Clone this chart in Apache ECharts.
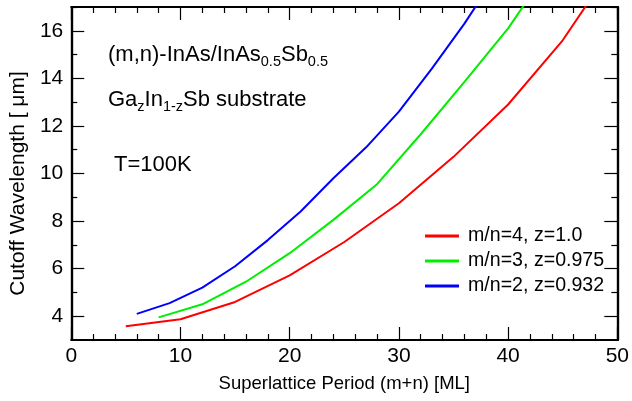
<!DOCTYPE html>
<html>
<head>
<meta charset="utf-8">
<script src="https://cdn.jsdelivr.net/npm/echarts@6/dist/echarts.min.js"></script>
<style>html,body{margin:0;padding:0;background:#fff;}#c{width:632px;height:401px;}</style>
</head>
<body>
<div id="c"></div>
<script>
// Data
const seriesNames = ['m/n=4, z=1.0', 'm/n=3, z=0.975', 'm/n=2, z=0.932'];
const redX = [5, 10, 15, 20, 25, 30, 35, 40, 45, 50];
const redY = [3.58, 3.87, 4.6, 5.72, 7.12, 8.75, 10.7, 12.9, 15.6, 19.0];
const greenX = [8, 12, 16, 20, 24, 28, 32, 36, 40, 44];
const greenY = [3.95, 4.5, 5.45, 6.65, 8.05, 9.55, 11.65, 13.85, 16.1, 18.8];
const blueX = [6, 9, 12, 15, 18, 21, 24, 27, 30, 33, 36, 39];
const blueY = [4.1, 4.55, 5.2, 6.1, 7.2, 8.4, 9.8, 11.1, 12.6, 14.4, 16.3, 18.4];
const yMajorTicks = [4, 6, 8, 10, 12, 14, 16];
const yMinorTicks = [5, 7, 9, 11, 13, 15, 17];

const FONT = 'Liberation Sans, Arial, sans-serif';
const zip = (xs, ys) => xs.map((x, i) => [x, ys[i]]);

const chart = echarts.init(document.getElementById('c'));
const baseX = {
  type: 'value', min: 0, max: 50, interval: 10,
  axisLine: { show: true, onZero: false, lineStyle: { color: '#000', width: 2.2 } },
  axisTick: { show: true, inside: true, length: 13, lineStyle: { color: '#000', width: 1.2 } },
  minorTick: { show: true, splitNumber: 5, length: 6, lineStyle: { color: '#000', width: 1.2 } },
  splitLine: { show: false }, minorSplitLine: { show: false }
};
const baseY = {
  type: 'value', min: 3, max: 17,
  axisLine: { show: true, onZero: false, lineStyle: { color: '#000', width: 2.2 } },
  splitLine: { show: false }
};
chart.setOption({
  animation: false,
  backgroundColor: '#fff',
  grid: { left: 70, right: 12, top: 7, bottom: 61, containLabel: false },
  xAxis: [
    Object.assign({}, baseX, {
      position: 'bottom',
      name: 'Superlattice Period (m+n) [ML]', nameLocation: 'middle', nameGap: 34,
      nameTextStyle: { fontFamily: FONT, fontSize: 18.5, color: '#000' },
      axisLabel: { show: true, margin: 6, fontFamily: FONT, fontSize: 21, color: '#000' }
    }),
    Object.assign({}, baseX, { position: 'top', axisLabel: { show: false } })
  ],
  yAxis: [
    Object.assign({}, baseY, {
      position: 'left',
      name: 'Cutoff Wavelength [ \u03bcm]', nameLocation: 'middle', nameGap: 41,
      nameTextStyle: { fontFamily: FONT, fontSize: 21, color: '#000', padding: [0, 20, 0, 0] },
      axisTick: { show: true, inside: true, length: 13, customValues: yMajorTicks, lineStyle: { color: '#000', width: 1.2 } },
      axisLabel: { show: true, margin: 8, customValues: yMajorTicks, fontFamily: FONT, fontSize: 21, color: '#000' }
    }),
    Object.assign({}, baseY, {
      position: 'right',
      axisTick: { show: true, inside: true, length: 13, customValues: yMajorTicks, lineStyle: { color: '#000', width: 1.2 } },
      axisLabel: { show: false }
    }),
    Object.assign({}, baseY, {
      position: 'left',
      axisTick: { show: true, inside: true, length: 6, customValues: yMinorTicks, lineStyle: { color: '#000', width: 1.2 } },
      axisLabel: { show: false }
    }),
    Object.assign({}, baseY, {
      position: 'right',
      axisTick: { show: true, inside: true, length: 6, customValues: yMinorTicks, lineStyle: { color: '#000', width: 1.2 } },
      axisLabel: { show: false }
    })
  ],
  legend: {
    left: 420, top: 221, orient: 'vertical',
    itemWidth: 34, itemHeight: 3, itemGap: 5, icon: 'rect',
    textStyle: { fontFamily: FONT, fontSize: 19.6, color: '#000', padding: [0, 0, 0, 4] },
    data: seriesNames
  },
  series: [
    { name: seriesNames[0], type: 'line', data: zip(redX, redY), showSymbol: false, symbol: 'none',
      lineStyle: { color: '#ff0000', width: 2 }, itemStyle: { color: '#ff0000' }, clip: true },
    { name: seriesNames[1], type: 'line', data: zip(greenX, greenY), showSymbol: false, symbol: 'none',
      lineStyle: { color: '#00ee00', width: 2 }, itemStyle: { color: '#00ee00' }, clip: true },
    { name: seriesNames[2], type: 'line', data: zip(blueX, blueY), showSymbol: false, symbol: 'none',
      lineStyle: { color: '#0000ff', width: 2 }, itemStyle: { color: '#0000ff' }, clip: true }
  ],
  graphic: [
    { type: 'text', left: 108, top: 44, style: {
      text: '{a|(m,n)-InAs/InAs}{b|0.5}{a|Sb}{b|0.5}',
      rich: { a: { fontFamily: FONT, fontSize: 22, fill: '#000' }, b: { fontFamily: FONT, fontSize: 14.5, fill: '#000', padding: [14, 0, 0, 0] } }
    } },
    { type: 'text', left: 108, top: 89, style: {
      text: '{a|Ga}{b|z}{a|In}{b|1-z}{a|Sb substrate}',
      rich: { a: { fontFamily: FONT, fontSize: 22, fill: '#000' }, b: { fontFamily: FONT, fontSize: 14.5, fill: '#000', padding: [14, 0, 0, 0] } }
    } },
    { type: 'text', left: 114, top: 154, style: { text: 'T=100K', font: '22px ' + FONT, fill: '#000' } }
  ]
});
</script>
</body>
</html>
